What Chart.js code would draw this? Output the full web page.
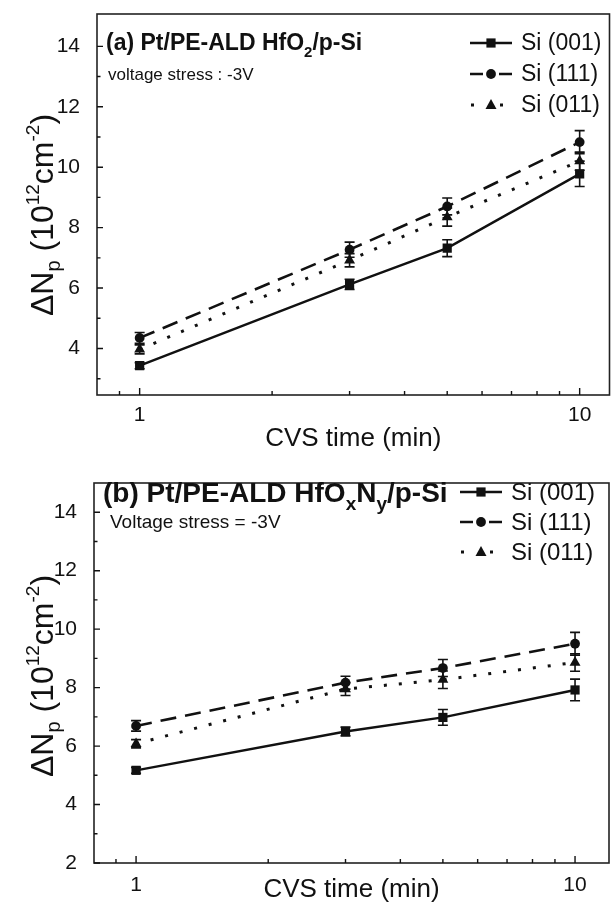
<!DOCTYPE html>
<html><head><meta charset="utf-8">
<script src="https://cdn.jsdelivr.net/npm/chart.js@4.4.1/dist/chart.umd.min.js"></script>
<style>
html,body{margin:0;padding:0;background:#fff;}
#wrap{position:relative;width:616px;height:904px;overflow:hidden;}
.pane{position:absolute;left:0;width:616px;height:452px;}
</style></head><body>
<div id="wrap">
<div class="pane" style="top:0"><canvas id="cA" width="616" height="452"></canvas></div>
<div class="pane" style="top:452px"><canvas id="cB" width="616" height="452"></canvas></div>
</div>
<script>
// ---------- data ----------
const times = [1, 3, 5, 10];
const seriesNames = ['Si (001)', 'Si (111)', 'Si (011)'];
// panel (a) Pt/PE-ALD HfO2/p-Si
const a001 = [3.43, 6.12, 7.32, 9.78];
const a001Err = [0.10, 0.17, 0.28, 0.42];
const a111 = [4.35, 7.27, 8.70, 10.83];
const a111Err = [0.18, 0.25, 0.28, 0.38];
const a011 = [3.97, 6.92, 8.35, 10.20];
const a011Err = [0.15, 0.22, 0.30, 0.30];
// panel (b) Pt/PE-ALD HfOxNy/p-Si
const b001 = [5.17, 6.50, 6.98, 7.92];
const b001Err = [0.10, 0.15, 0.27, 0.37];
const b111 = [6.69, 8.17, 8.67, 9.50];
const b111Err = [0.18, 0.22, 0.29, 0.39];
const b011 = [6.08, 7.95, 8.27, 8.86];
const b011Err = [0.14, 0.22, 0.30, 0.30];
// ticks
const xTickLabels = [1, 10];
const xMinorTicks = [0.9, 2, 3, 4, 5, 6, 7, 8, 9];
const aYTicks = [4, 6, 8, 10, 12, 14];
const aYMinor = [3, 5, 7, 9, 11, 13];
const bYTicks = [2, 4, 6, 8, 10, 12, 14];
const bYMinor = [3, 5, 7, 9, 11, 13];

const FONT = "'Liberation Sans', Arial, sans-serif";
const INK = '#111';

function drawRich(ctx, x, y, segs, align) {
  let total = 0;
  segs.forEach(s => { ctx.font = (s.b ? 'bold ' : '') + s.s + 'px ' + FONT; total += ctx.measureText(s.t).width; });
  let cx = align === 'center' ? x - total / 2 : x;
  ctx.textBaseline = 'alphabetic';
  ctx.textAlign = 'left';
  segs.forEach(s => {
    ctx.font = (s.b ? 'bold ' : '') + s.s + 'px ' + FONT;
    ctx.fillText(s.t, cx, y + (s.dy || 0));
    cx += ctx.measureText(s.t).width;
  });
}

function drawMarker(ctx, style, x, y) {
  ctx.beginPath();
  if (style === 'rect') { ctx.rect(x - 4.6, y - 4.6, 9.2, 9.2); }
  else if (style === 'circle') { ctx.arc(x, y, 4.9, 0, Math.PI * 2); }
  else { ctx.moveTo(x, y - 6); ctx.lineTo(x + 5.5, y + 4); ctx.lineTo(x - 5.5, y + 4); ctx.closePath(); }
  ctx.fill();
}

function makePanel(canvasId, cfg) {
  const styles = [
    { dash: [], w: 2.4, pt: 'rect', r: 6.5 },
    { dash: [16, 9], w: 2.6, pt: 'circle', r: 4.9 },
    { dash: [3, 12], w: 3, pt: 'triangle', r: 6.3 }
  ];
  const datasets = cfg.series.map((vals, k) => ({
    label: seriesNames[k],
    data: times.map((t, i) => ({ x: t, y: vals[i] })),
    errors: cfg.errs[k],
    borderColor: INK, backgroundColor: INK,
    borderWidth: styles[k].w, borderDash: styles[k].dash,
    pointStyle: styles[k].pt, pointRadius: styles[k].r, pointBorderWidth: 0,
    pointBackgroundColor: INK, tension: 0, fill: false
  }));

  const decor = {
    id: 'decor',
    afterDatasetsDraw(chart) {
      const ctx = chart.ctx, xs = chart.scales.x, ys = chart.scales.y, ca = chart.chartArea;
      ctx.save();
      // error bars
      ctx.strokeStyle = INK; ctx.lineWidth = 1.6; ctx.setLineDash([]);
      chart.data.datasets.forEach(ds => {
        ds.data.forEach((p, i) => {
          const e = ds.errors[i];
          const px = xs.getPixelForValue(p.x);
          const y1 = ys.getPixelForValue(p.y - e), y2 = ys.getPixelForValue(p.y + e);
          ctx.beginPath();
          ctx.moveTo(px, y1); ctx.lineTo(px, y2);
          ctx.moveTo(px - 5, y1); ctx.lineTo(px + 5, y1);
          ctx.moveTo(px - 5, y2); ctx.lineTo(px + 5, y2);
          ctx.stroke();
        });
      });
      // frame
      ctx.lineWidth = 1.6; ctx.strokeStyle = '#222';
      ctx.strokeRect(ca.left, ca.top, ca.right - ca.left, ca.bottom - ca.top);
      // inward ticks
      ctx.lineWidth = 1.4; ctx.strokeStyle = INK;
      ctx.beginPath();
      cfg.yTicks.forEach(v => { const y = ys.getPixelForValue(v); ctx.moveTo(ca.left, y); ctx.lineTo(ca.left + 6, y); });
      cfg.yMinor.forEach(v => { const y = ys.getPixelForValue(v); ctx.moveTo(ca.left, y); ctx.lineTo(ca.left + 3.5, y); });
      xTickLabels.forEach(v => { const x = xs.getPixelForValue(v); ctx.moveTo(x, ca.bottom); ctx.lineTo(x, ca.bottom - 7); });
      xMinorTicks.forEach(v => { const x = xs.getPixelForValue(v); ctx.moveTo(x, ca.bottom); ctx.lineTo(x, ca.bottom - 4); });
      ctx.stroke();
      // title
      ctx.fillStyle = INK;
      drawRich(ctx, cfg.title.x, cfg.title.y, cfg.title.segs);
      // note
      ctx.font = cfg.note.s + 'px ' + FONT;
      ctx.textBaseline = 'middle'; ctx.textAlign = 'left';
      ctx.fillText(cfg.note.t, cfg.note.x, cfg.note.y);
      // legend
      const L = cfg.legend;
      styles.forEach((st, k) => {
        const yy = L.y0 + k * L.dy;
        const x0 = L.x0, xm = L.x0 + 21, x1 = L.x0 + 42;
        ctx.strokeStyle = INK; ctx.lineWidth = st.w; ctx.setLineDash([]);
        ctx.beginPath();
        if (k === 0) { ctx.moveTo(x0, yy); ctx.lineTo(x1, yy); }
        else if (k === 1) { ctx.moveTo(x0, yy); ctx.lineTo(x0 + 13, yy); ctx.moveTo(x1 - 13, yy); ctx.lineTo(x1, yy); }
        else { ctx.moveTo(x0 + 1, yy); ctx.lineTo(x0 + 4, yy); ctx.moveTo(xm + 9, yy); ctx.lineTo(xm + 12, yy); }
        ctx.stroke();
        ctx.fillStyle = INK;
        drawMarker(ctx, st.pt, xm, yy);
        ctx.font = L.s + 'px ' + FONT; ctx.textBaseline = 'middle'; ctx.textAlign = 'left';
        ctx.fillText(seriesNames[k], L.tx, yy + 1);
      });
      // y axis title (rotated)
      ctx.save();
      ctx.translate(cfg.yTitle.x, cfg.yTitle.y);
      ctx.rotate(-Math.PI / 2);
      drawRich(ctx, 0, 0, [
        { t: '\u0394N', s: 32 }, { t: 'p', s: 20, dy: 7 }, { t: ' (10', s: 32 },
        { t: '12', s: 19, dy: -14 }, { t: 'cm', s: 32 }, { t: '-2', s: 19, dy: -14 }, { t: ')', s: 32 }
      ], 'center');
      ctx.restore();
      // x axis title
      ctx.font = '26px ' + FONT; ctx.textAlign = 'center'; ctx.textBaseline = 'middle';
      ctx.fillText('CVS time (min)', (ca.left + ca.right) / 2, cfg.xTitleY);
      ctx.restore();
    }
  };

  return new Chart(document.getElementById(canvasId), {
    type: 'line',
    data: { datasets },
    plugins: [decor],
    options: {
      responsive: false, animation: false, devicePixelRatio: 1,
      layout: { padding: { left: 0, top: cfg.padTop, right: cfg.padRight, bottom: 0 } },
      plugins: { legend: { display: false }, tooltip: { enabled: false } },
      scales: {
        x: {
          type: 'logarithmic', min: cfg.xMin, max: cfg.xMax,
          grid: { display: false }, border: { display: false },
          ticks: { font: { family: FONT, size: 21 }, color: INK, padding: cfg.xPad, maxRotation: 0, autoSkip: false,
                   callback: v => String(v) },
          afterBuildTicks: s => { s.ticks = xTickLabels.map(v => ({ value: v })); },
          afterFit: s => { s.height = cfg.xH; s.paddingLeft = 0; s.paddingRight = 0; s.paddingTop = 0; s.paddingBottom = 0; }
        },
        y: {
          type: 'linear', min: cfg.yMin, max: cfg.yMax,
          grid: { display: false }, border: { display: false },
          ticks: { font: { family: FONT, size: 21 }, color: INK, padding: 9, callback: v => String(v) },
          afterBuildTicks: s => { s.ticks = cfg.yTicks.map(v => ({ value: v })); },
          afterFit: s => { s.width = cfg.yW; s.paddingLeft = 0; s.paddingRight = 0; s.paddingTop = 0; s.paddingBottom = 0; }
        }
      }
    }
  });
}

makePanel('cA', {
  series: [a001, a111, a011], errs: [a001Err, a111Err, a011Err],
  yTicks: aYTicks, yMinor: aYMinor, yMin: 2.46, yMax: 15.07,
  xMin: 0.80, xMax: 11.69, padTop: 14, padRight: 3, yW: 97, xH: 57, xPad: 0,
  title: { x: 106, y: 50, segs: [
    { t: '(a) Pt/PE-ALD HfO', s: 23, b: true }, { t: '2', s: 15, b: true, dy: 7 }, { t: '/p-Si', s: 23, b: true }] },
  note: { t: 'voltage stress : -3V', x: 108, y: 75, s: 17 },
  legend: { x0: 470, y0: 43, dy: 31, tx: 521, s: 23 },
  yTitle: { x: 53, y: 215 }, xTitleY: 439
});

makePanel('cB', {
  series: [b001, b111, b011], errs: [b001Err, b111Err, b011Err],
  yTicks: bYTicks, yMinor: bYMinor, yMin: 2, yMax: 15.0,
  xMin: 0.802, xMax: 11.95, padTop: 31, padRight: 7, yW: 94, xH: 41, xPad: 2,
  title: { x: 103, y: 50, segs: [
    { t: '(b) Pt/PE-ALD HfO', s: 28, b: true }, { t: 'x', s: 19, b: true, dy: 8 }, { t: 'N', s: 28, b: true },
    { t: 'y', s: 19, b: true, dy: 8 }, { t: '/p-Si', s: 28, b: true }] },
  note: { t: 'Voltage stress = -3V', x: 110, y: 71, s: 19 },
  legend: { x0: 460, y0: 40, dy: 30, tx: 511, s: 24 },
  yTitle: { x: 53, y: 224 }, xTitleY: 438
});
</script>
</body></html>
